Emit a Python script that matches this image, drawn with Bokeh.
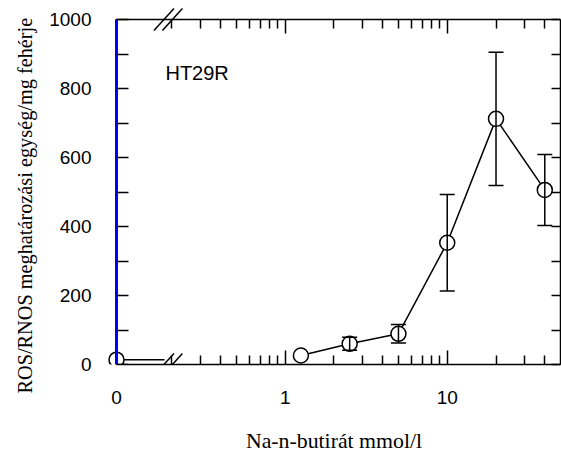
import math
from bokeh.plotting import figure
from bokeh.models import (Range1d, LogAxis, LinearAxis, FixedTicker, Whisker, TeeHead,
                          ColumnDataSource, Label, Title)
from bokeh.embed import file_html
from bokeh.resources import INLINE

# ---------------- data ----------------
dose = [0, 1.25, 2.5, 5, 10, 20, 40]            # Na-n-butirát mmol/l
ros = [14, 26, 60, 89, 353, 712, 506]           # ROS/RNOS egység/mg fehérje
ros_err = [0, 0, 19, 27, 140, 193, 103]         # hiba (±)

x_tick_values = [0, 1, 10]
x_tick_labels = ["0", "1", "10"]
x_minor_values = [0.2, 0.3, 0.4, 0.5, 0.6, 0.7, 0.8, 0.9,
                  2, 3, 4, 5, 6, 7, 8, 9, 20, 30, 40]
y_tick_values = [0, 200, 400, 600, 800, 1000]
y_minor_values = [100, 300, 500, 700, 900]

panel_label = "HT29R"
x_title = "Na-n-butirát mmol/l"
y_title = "ROS/RNOS meghatározási egység/mg fehérje"

# ---------------- layout constants ----------------
ZERO_POS = 0.091
BREAK_X = 0.18
X_END = 50
Y_MAX = 1000
AXES_W = 444
AXES_H = 345
PAD_LEFT = 9
PAD_TOP = 12
PX_PER_DEC = AXES_W / math.log10(X_END / ZERO_POS)
PX_PER_Y = AXES_H / Y_MAX
X_START = ZERO_POS * 10 ** (-PAD_LEFT / PX_PER_DEC)
Y_TOP = Y_MAX + PAD_TOP / PX_PER_Y
SLASH_CENTERS = [0.1786, 0.2014]
SLASH_HALF_PX = (10, 11)
MARKER_SIZE = 15

def pos(d):
    return ZERO_POS if d == 0 else d

plot_x = [pos(d) for d in dose]

p = figure(width=561, height=455, x_axis_type="log",
           x_range=Range1d(X_START, X_END), y_range=Range1d(0, Y_TOP),
           output_backend="svg", toolbar_location=None,
           min_border_left=116 - PAD_LEFT, min_border_right=1,
           min_border_top=19 - PAD_TOP, min_border_bottom=91)
p.outline_line_color = None
p.xgrid.visible = False
p.ygrid.visible = False

x_major_pos = [pos(t) for t in x_tick_values]
x_ticker = FixedTicker(ticks=x_major_pos, minor_ticks=x_minor_values)
y_ticker = FixedTicker(ticks=y_tick_values, minor_ticks=y_minor_values)

LW = 1.5
TICK_FONT = "Liberation Sans"
TICK_SIZE = "19px"

xa = p.xaxis[0]
xa.ticker = x_ticker
xa.bounds = (ZERO_POS, X_END)
xa.major_label_overrides = {mp: lab for mp, lab in zip(x_major_pos, x_tick_labels)}
xa.major_tick_in = 14
xa.major_tick_out = 0
xa.minor_tick_in = 9
xa.minor_tick_out = 0
xa.axis_line_color = "black"
xa.axis_line_width = LW
xa.major_tick_line_color = "black"
xa.minor_tick_line_color = "black"
xa.major_tick_line_width = LW
xa.minor_tick_line_width = LW
xa.major_label_text_font = TICK_FONT
xa.major_label_text_font_size = TICK_SIZE
xa.major_label_text_color = "black"
xa.major_label_standoff = 26
xa.axis_label = x_title
xa.axis_label_text_font = "Liberation Serif"
xa.axis_label_text_font_style = "normal"
xa.axis_label_text_font_size = "21.8px"
xa.axis_label_text_color = "black"
xa.axis_label_standoff = 22

ya = p.yaxis[0]
ya.ticker = y_ticker
ya.axis_line_color = None
ya.major_tick_line_color = None
ya.minor_tick_line_color = None
ya.major_tick_out = 0
ya.minor_tick_out = 0
ya.major_label_text_font = TICK_FONT
ya.major_label_text_font_size = TICK_SIZE
ya.major_label_text_color = "black"
ya.major_label_standoff = 16

la = LinearAxis(ticker=y_ticker, fixed_location=ZERO_POS, bounds=(0, Y_MAX),
                major_tick_in=12, major_tick_out=0, minor_tick_in=12, minor_tick_out=0,
                axis_line_color="blue", axis_line_width=3,
                major_tick_line_color="black", minor_tick_line_color="black",
                major_tick_line_width=LW, minor_tick_line_width=LW,
                major_label_text_font_size="1px", major_label_text_color=None,
                major_label_standoff=0)
p.add_layout(la, "left")

p.add_layout(Title(text=y_title, align="left", offset=-29, standoff=22,
                   text_font="Liberation Serif", text_font_size="20.3px",
                   text_font_style="normal", text_color="black"), "left")

ta = LogAxis(ticker=x_ticker, fixed_location=Y_MAX, bounds=(ZERO_POS, X_END),
             major_tick_in=14, major_tick_out=0, minor_tick_in=9, minor_tick_out=0,
             axis_line_color="black", axis_line_width=LW,
             major_tick_line_color="black", minor_tick_line_color="black",
             major_tick_line_width=LW, minor_tick_line_width=LW,
             major_label_text_font_size="1px", major_label_text_color=None,
             major_label_standoff=0)
p.add_layout(ta, "above")

ra = LinearAxis(ticker=y_ticker, bounds=(0, Y_MAX),
                major_tick_in=9, major_tick_out=0, minor_tick_in=9, minor_tick_out=0,
                axis_line_color="black", axis_line_width=LW,
                major_tick_line_color="black", minor_tick_line_color="black",
                major_tick_line_width=LW, minor_tick_line_width=LW,
                major_label_text_font_size="1px", major_label_text_color=None,
                major_label_standoff=0)
p.add_layout(ra, "right")

# left rule drawn as a glyph (diagnostic colour)
p.line([ZERO_POS, ZERO_POS], [y_tick_values[0], y_tick_values[-1]],
       line_color="red", line_width=3)

wx = [x for x, e in zip(plot_x, ros_err) if e > 0]
wu = [v + e for v, e in zip(ros, ros_err) if e > 0]
wl = [v - e for v, e in zip(ros, ros_err) if e > 0]
wsrc = ColumnDataSource(dict(x=wx, upper=wu, lower=wl))
p.add_layout(Whisker(source=wsrc, base="x", upper="upper", lower="lower",
                     line_color="black", line_width=LW,
                     upper_head=TeeHead(size=15, line_color="black", line_width=LW),
                     lower_head=TeeHead(size=15, line_color="black", line_width=LW),
                     level="glyph"))

p.line(plot_x[1:], ros[1:], line_color="black", line_width=LW)
p.line([plot_x[0], BREAK_X], [ros[0], ros[0]], line_color="black", line_width=LW)

p.scatter(plot_x, ros, size=MARKER_SIZE, marker="circle", fill_color="white",
          line_color="black", line_width=LW)

sx0, sx1, sy0, sy1 = [], [], [], []
for yb in (0, Y_MAX):
    for c in SLASH_CENTERS:
        sx0.append(c * 10 ** (-SLASH_HALF_PX[0] / PX_PER_DEC))
        sx1.append(c * 10 ** (SLASH_HALF_PX[0] / PX_PER_DEC))
        sy0.append(yb - SLASH_HALF_PX[1] / PX_PER_Y)
        sy1.append(yb + SLASH_HALF_PX[1] / PX_PER_Y)
p.segment(sx0, sy0, sx1, sy1, line_color="black", line_width=LW)

p.add_layout(Label(x=0.1824, y=846, text=panel_label, text_font=TICK_FONT,
                   text_font_size="20px", text_color="black",
                   text_align="left", text_baseline="alphabetic"))

open("out.html", "w").write(file_html(p, INLINE))
